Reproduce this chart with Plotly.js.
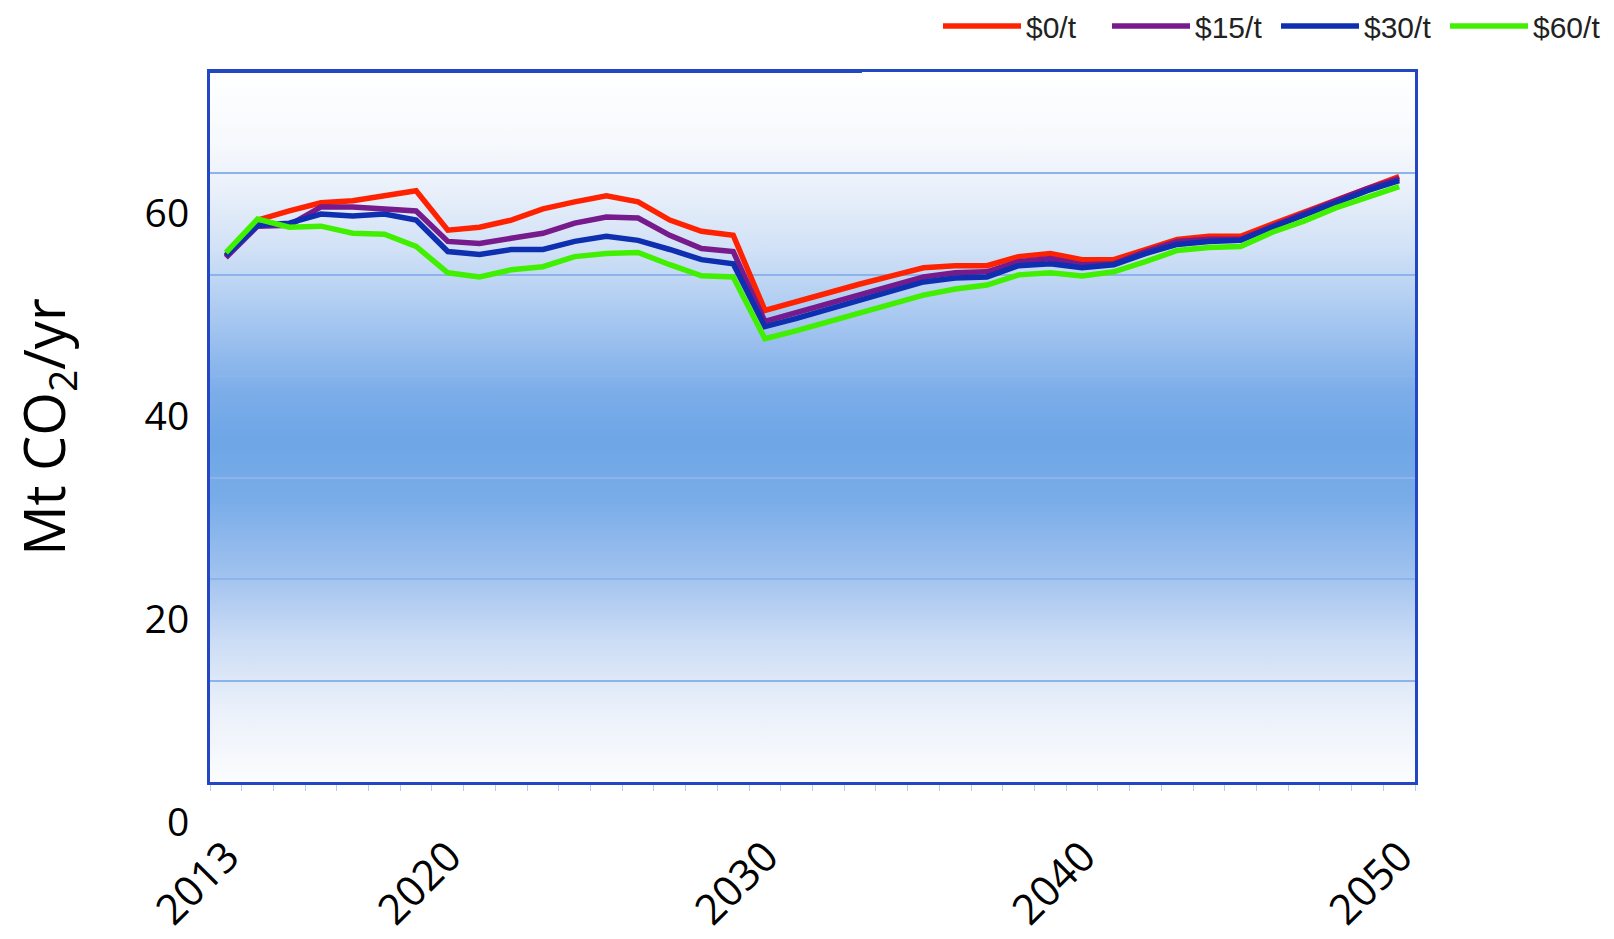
<!DOCTYPE html>
<html>
<head>
<meta charset="utf-8">
<script src="https://cdn.plot.ly/plotly-3.0.1.min.js"></script>
<style>
  html, body { margin: 0; padding: 0; background: #ffffff; }
  #chart { width: 1614px; height: 939px; }
</style>
</head>
<body>
<div id="chart"></div>
<script>
// ---- data (Mt CO2/yr) ----
const years = [2013,2014,2015,2016,2017,2018,2019,2020,2021,2022,2023,2024,2025,2026,2027,2028,2029,2030,
               2031,2032,2033,2034,2035,2036,2037,2038,2039,2040,2041,2042,2043,2044,2045,2046,2047,2048,2049,2050];

const price0 = [51.8,55.4,56.3,57.1,57.3,57.8,58.3,54.4,54.7,55.4,56.5,57.2,57.8,57.2,55.4,54.3,53.9,46.5,
                47.4,48.2,49.1,49.9,50.7,50.9,50.9,51.8,52.1,51.5,51.5,52.5,53.5,53.8,53.8,55.0,56.2,57.4,58.6,59.7];
const price15 = [51.7,54.8,54.9,56.7,56.7,56.5,56.3,53.3,53.1,53.6,54.1,55.1,55.7,55.6,53.9,52.6,52.3,45.4,
                 46.3,47.2,48.1,49.0,49.8,50.2,50.3,51.3,51.6,51.0,51.1,52.3,53.3,53.5,53.5,54.8,56.1,57.3,58.5,59.5];
const price30 = [51.9,54.9,55.1,56.0,55.8,56.0,55.4,52.3,52.0,52.5,52.5,53.3,53.8,53.4,52.5,51.5,51.1,44.9,
                 45.7,46.6,47.6,48.5,49.3,49.7,49.8,50.9,51.1,50.7,51.0,52.1,53.0,53.3,53.4,54.7,55.9,57.1,58.3,59.3];
const price60 = [52.2,55.5,54.7,54.8,54.1,54.0,52.8,50.2,49.8,50.5,50.8,51.8,52.1,52.2,51.0,49.9,49.8,43.7,
                 44.5,45.4,46.3,47.2,48.0,48.6,49.0,50.0,50.2,49.9,50.3,51.3,52.4,52.7,52.8,54.2,55.3,56.6,57.7,58.7];

const seriesNames = ['$0/t', '$15/t', '$30/t', '$60/t'];
const seriesColors = ['#ff2200', '#771a8c', '#0d2fb0', '#40f000'];
const seriesValues = [price0, price15, price30, price60];

const xTickVals = [2013, 2020, 2030, 2040, 2050];
const xTickText = ['2013', '2020', '2030', '2040', '2050'];
const yTickVals = [0, 20, 40, 60];
const yTickText = ['0', '20', '40', '60'];

// ---- background gradient of the plot area ----
const gradStops = [
  [0.00, '#ffffff'], [0.10, '#f6f9fd'], [0.16, '#ebf1fa'], [0.25, '#d1e1f6'],
  [0.35, '#a6c7f0'], [0.45, '#7cade9'], [0.52, '#6ea6e6'], [0.60, '#78ace8'],
  [0.70, '#9dc0ee'], [0.80, '#cbdcf5'], [0.90, '#ebf1fa'], [1.00, '#fbfcfe']
];
const svg = '<svg xmlns="http://www.w3.org/2000/svg" width="10" height="100" preserveAspectRatio="none">' +
  '<defs><linearGradient id="g" x1="0" y1="0" x2="0" y2="1">' +
  gradStops.map(s => '<stop offset="' + s[0] + '" stop-color="' + s[1] + '"/>').join('') +
  '</linearGradient></defs><rect x="0" y="0" width="10" height="100" fill="url(#g)"/></svg>';
const bgSource = 'data:image/svg+xml;charset=utf-8,' + encodeURIComponent(svg);

const traces = seriesNames.map((name, k) => ({
  type: 'scatter',
  mode: 'lines',
  name: name,
  x: years,
  y: seriesValues[k],
  line: { color: seriesColors[k], width: 5.5 },
  hoverinfo: 'x+y+name'
}));

const frameColor = '#2346c2';
const gridColor = '#8cb3ec';

const layout = {
  width: 1614,
  height: 939,
  margin: { l: 210, r: 199, t: 72, b: 157 },
  paper_bgcolor: '#ffffff',
  plot_bgcolor: 'rgba(0,0,0,0)',
  font: { family: '"Open Sans", sans-serif', color: '#000000' },
  showlegend: true,
  legend: {
    orientation: 'h',
    x: 1, xanchor: 'right', xref: 'container',
    y: 1, yanchor: 'top', yref: 'container',
    font: { family: '"Liberation Sans", Arial, sans-serif', size: 30, color: '#222222' },
    bgcolor: 'rgba(0,0,0,0)',
    itemwidth: 78,
    entrywidth: 76,
    traceorder: 'normal'
  },
  xaxis: {
    range: [2012.5, 2050.5],
    tickmode: 'array',
    tickvals: xTickVals,
    ticktext: xTickText,
    tickangle: -45,
    ticks: '',
    ticklabelstandoff: 30,
    ticklabelshift: 1,
    tickfont: { family: '"Open Sans", sans-serif', size: 42, color: '#000000' },
    showgrid: false,
    zeroline: false,
    showline: true,
    mirror: true,
    linecolor: frameColor,
    linewidth: 3,
    minor: { tick0: 2012.5, dtick: 1, ticks: 'outside', ticklen: 6, tickwidth: 1, tickcolor: '#b9c9e8', showgrid: false }
  },
  yaxis: {
    range: [0, 70],
    tickmode: 'array',
    tickvals: yTickVals,
    ticktext: yTickText,
    ticks: '',
    ticklabelshift: 40,
    ticklabelstandoff: 10,
    tickfont: { family: '"Open Sans", sans-serif', size: 39, color: '#000000' },
    showgrid: true,
    gridcolor: gridColor,
    gridwidth: 2,
    minor: { tick0: 0, dtick: 10, ticks: '', showgrid: true, gridcolor: gridColor, gridwidth: 2 },
    zeroline: false,
    showline: true,
    mirror: true,
    linecolor: frameColor,
    linewidth: 3,
    title: {
      text: 'Mt CO<sub>2</sub>/yr',
      font: { family: '"Open Sans", sans-serif', size: 56, color: '#000000' },
      standoff: 61
    }
  },
  images: [{
    source: bgSource,
    xref: 'paper', yref: 'paper',
    x: 0, y: 1, sizex: 1, sizey: 1,
    xanchor: 'left', yanchor: 'top',
    sizing: 'stretch',
    layer: 'below'
  }],
  shapes: [{
    type: 'line', xref: 'paper', yref: 'paper',
    x0: 0, x1: 0.541, y0: 1.0015, y1: 1.0015,
    line: { color: frameColor, width: 4 }
  }]
};

Plotly.newPlot('chart', traces, layout, { displayModeBar: false, staticPlot: true });
</script>
</body>
</html>
